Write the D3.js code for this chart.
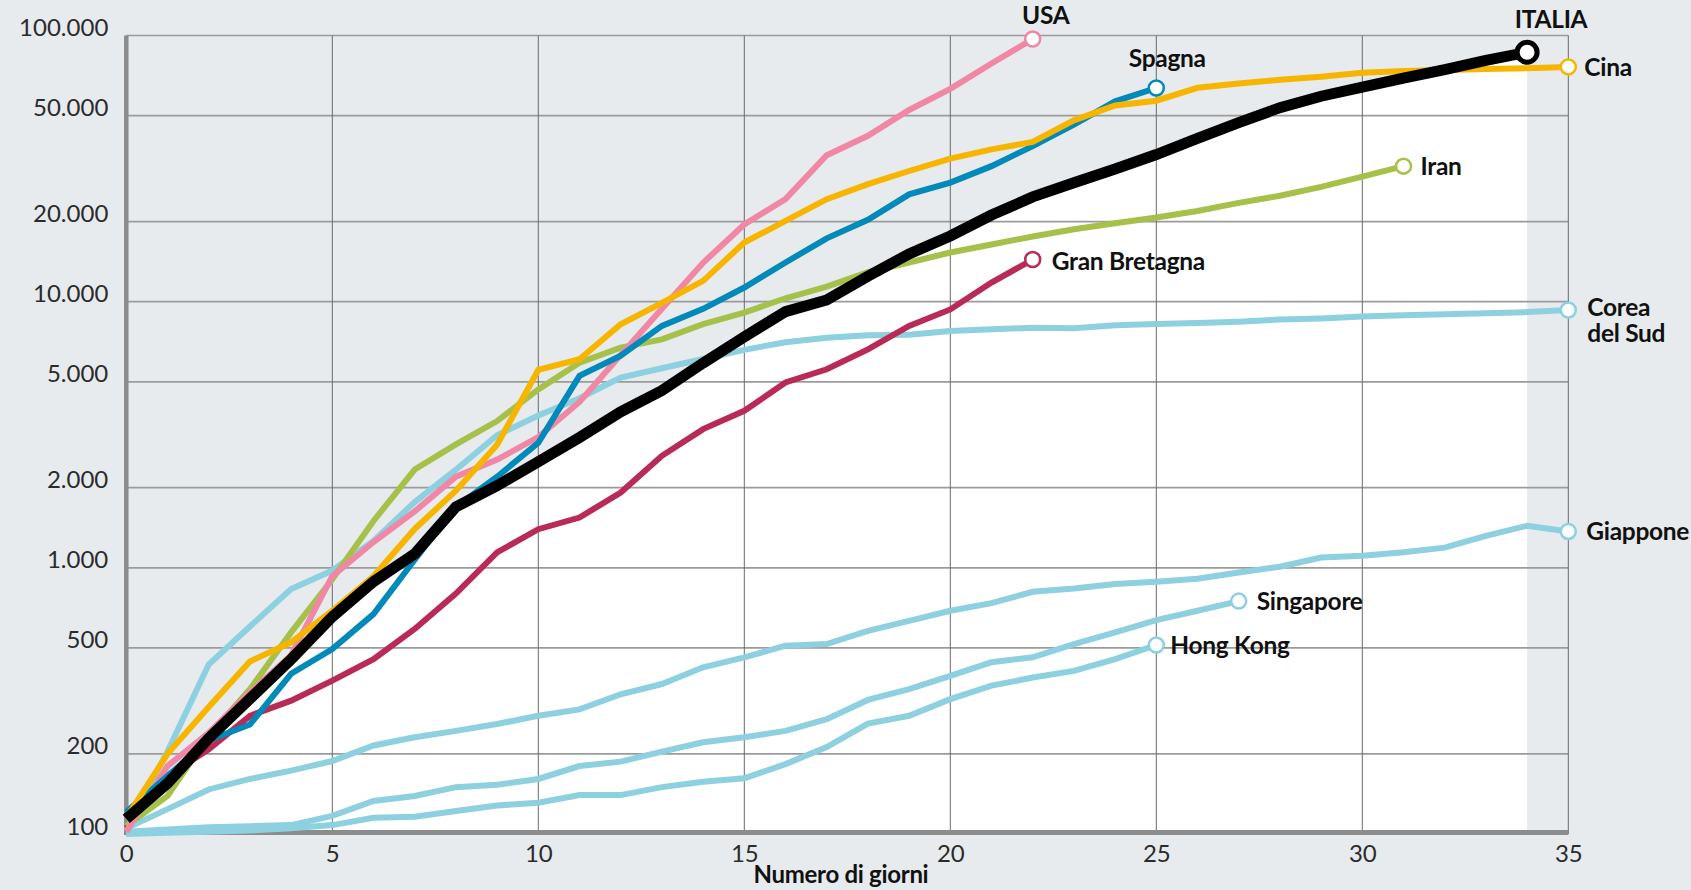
<!DOCTYPE html>
<html>
<head>
<meta charset="utf-8">
<script src="https://cdn.jsdelivr.net/npm/d3@7"></script>
<style>
  body { margin: 0; background: #e7ebee; }
  svg { display: block; }
  .axis text { font-family: Lato, sans-serif; font-weight: 400; font-size: 24px; fill: #2b2b2b; }
  .label { font-family: Lato, sans-serif; font-weight: 700; font-size: 24.5px; fill: #111; letter-spacing: -0.3px; }
</style>
</head>
<body>
<div id="chart"></div>
<script>
// casi totali per giorno, dal giorno in cui si superano i 100 casi
const italia    = [114, 155, 229, 322, 453, 655, 888, 1128, 1694, 2036, 2502, 3089, 3858, 4636, 5883, 7375, 9172, 10149, 12462, 15113, 17660, 21157, 24747, 27980, 31506, 35713, 41035, 47021, 53578, 59138, 63927, 69176, 74386, 80589, 86498];
const cina      = [115, 200, 300, 445, 525, 690, 930, 1400, 1950, 2900, 5540, 6080, 8220, 9900, 11970, 16680, 20100, 24270, 27630, 30970, 34470, 37350, 39800, 48000, 54600, 56900, 63600, 66000, 68200, 70000, 72500, 73500, 74200, 74800, 75300, 76200];
const usa       = [102, 180, 240, 340, 470, 930, 1250, 1630, 2200, 2550, 3100, 4200, 6300, 9400, 14000, 19500, 24300, 35500, 42000, 52500, 63000, 78500, 97000];
const spagna    = [121, 165, 225, 258, 400, 495, 670, 1073, 1695, 2200, 2950, 5260, 6270, 8110, 9400, 11300, 14030, 17300, 20300, 25300, 28000, 32300, 38400, 46300, 56600, 63500];
const iran      = [107, 139, 234, 350, 572, 906, 1500, 2340, 2910, 3560, 4680, 5900, 6720, 7220, 8230, 9100, 10300, 11400, 12900, 14030, 15300, 16400, 17580, 18700, 19700, 20700, 21900, 23500, 25000, 27000, 29500, 32300];
const gb        = [105, 165, 208, 278, 317, 377, 454, 589, 800, 1143, 1397, 1545, 1918, 2635, 3320, 3890, 4970, 5570, 6620, 8110, 9350, 11800, 14400];
const corea     = [104, 204, 433, 602, 833, 977, 1261, 1766, 2337, 3150, 3736, 4335, 5186, 5621, 6088, 6593, 7041, 7314, 7478, 7513, 7755, 7869, 7979, 7950, 8160, 8236, 8320, 8413, 8565, 8652, 8799, 8897, 8961, 9037, 9137, 9300];
const giappone  = [105, 124, 147, 161, 173, 188, 215, 231, 244, 259, 278, 294, 335, 366, 423, 461, 510, 517, 580, 632, 690, 737, 813, 837, 869, 886, 910, 960, 1010, 1094, 1110, 1144, 1191, 1318, 1439, 1370];
const singapore = [102, 104, 106, 107, 108, 117, 133, 139, 150, 153, 161, 180, 187, 204, 221, 231, 244, 270, 319, 350, 393, 442, 461, 517, 572, 636, 690, 750];
const hongkong  = [100, 101, 102, 103, 105, 108, 115, 116, 122, 128, 131, 140, 140, 150, 157, 162, 183, 212, 260, 278, 321, 361, 387, 410, 454, 513];

const yTicks = [100, 200, 500, 1000, 2000, 5000, 10000, 20000, 50000, 100000];
const xTicks = [0, 5, 10, 15, 20, 25, 30, 35];

const width = 1691, height = 890;
const cyan = "#8dd0df";

// ordine di disegno: prima i paesi asiatici, Italia sopra a tutti
const series = [
  { name: ["Hong Kong"],       data: hongkong,  color: cyan,      w: 6,  lab: [14, 0, "start"] },
  { name: ["Singapore"],       data: singapore, color: cyan,      w: 6,  lab: [18, 0, "start"] },
  { name: ["Giappone"],        data: giappone,  color: cyan,      w: 6,  lab: [18, 0, "start"] },
  { name: ["Corea", "del Sud"],data: corea,     color: cyan,      w: 6,  lab: [19, -3, "start"] },
  { name: ["Gran Bretagna"],   data: gb,        color: "#b92b56", w: 6,  lab: [19, 2, "start"] },
  { name: ["Iran"],            data: iran,      color: "#a6c14a", w: 6,  lab: [17, 0, "start"] },
  { name: ["USA"],             data: usa,       color: "#f088a5", w: 6,  lab: [13, -24, "middle"] },
  { name: ["Spagna"],          data: spagna,    color: "#0089b9", w: 6,  lab: [11, -30, "middle"] },
  { name: ["Cina"],            data: cina,      color: "#f7b500", w: 6,  lab: [16, 0, "start"] },
  { name: ["ITALIA"],          data: italia,    color: "#000",    w: 11, lab: [24, -33, "middle"] }
];

const svg = d3.select("#chart").append("svg")
    .attr("width", width)
    .attr("height", height);

const x = d3.scaleLinear().domain([0, 35]).range([126.3, 1568.3]);
const y = d3.scaleLog().domain([100, 100000]).range([834, 35.5]);

const fmt = d3.formatLocale({ decimal: ",", thousands: ".", grouping: [3], currency: ["", "€"] }).format(",d");

svg.append("rect").attr("width", width).attr("height", height).attr("fill", "#e7ebee");

// area bianca sotto la curva italiana
const area = d3.area()
    .x((d, i) => x(i))
    .y0(y(100))
    .y1(d => y(d));
svg.append("path").datum(italia).attr("d", area).attr("fill", "#fff");

// griglia
svg.append("g").selectAll("line").data(yTicks.slice(1)).join("line")
    .attr("x1", x(0)).attr("x2", x(35))
    .attr("y1", d => y(d)).attr("y2", d => y(d))
    .attr("stroke", "#9b9b9b").attr("stroke-width", 1.7);
svg.append("g").selectAll("line").data(xTicks.slice(1)).join("line")
    .attr("x1", d => x(d)).attr("x2", d => x(d))
    .attr("y1", y(100000)).attr("y2", y(100))
    .attr("stroke", "#6a6a6a").attr("stroke-width", 1);

// etichette assi
const yAxis = svg.append("g").attr("class", "axis")
    .attr("transform", `translate(${x(0)},0)`)
    .call(d3.axisLeft(y).tickValues(yTicks).tickFormat(fmt).tickSize(0).tickPadding(18));
yAxis.select(".domain").remove();
yAxis.selectAll("text").attr("dy", "0");

const xAxis = svg.append("g").attr("class", "axis")
    .attr("transform", `translate(0,${y(100)})`)
    .call(d3.axisBottom(x).tickValues(xTicks).tickSize(0).tickPadding(11));
xAxis.select(".domain").remove();

svg.append("text").attr("class", "label")
    .attr("x", 841).attr("y", 883)
    .attr("text-anchor", "middle")
    .style("font-size", "24px")
    .text("Numero di giorni");

// assi spessi
svg.append("line")
    .attr("x1", x(0)).attr("x2", x(0)).attr("y1", y(100000)).attr("y2", y(100) + 1)
    .attr("stroke", "#8c8c8c").attr("stroke-width", 4.5);
svg.append("line")
    .attr("x1", x(0) - 2).attr("x2", x(35)).attr("y1", y(100) - 1.5).attr("y2", y(100) - 1.5)
    .attr("stroke", "#8c8c8c").attr("stroke-width", 5);

// linee
const line = d3.line()
    .x((d, i) => x(i))
    .y(d => y(d));

svg.append("g").selectAll("path").data(series).join("path")
    .attr("d", s => line(s.data))
    .attr("fill", "none")
    .attr("stroke", s => s.color)
    .attr("stroke-width", s => s.w);

// marcatori finali
svg.append("g").selectAll("circle").data(series).join("circle")
    .attr("cx", s => x(s.data.length - 1))
    .attr("cy", s => y(s.data[s.data.length - 1]))
    .attr("r", s => s.w > 8 ? 10 : 7.5)
    .attr("fill", "#fff")
    .attr("stroke", s => s.color)
    .attr("stroke-width", s => s.w > 8 ? 5 : 2.5);

// etichette paesi
const labels = svg.append("g").selectAll("text").data(series).join("text")
    .attr("class", "label")
    .attr("text-anchor", s => s.lab[2])
    .attr("x", s => x(s.data.length - 1) + s.lab[0])
    .attr("y", s => y(s.data[s.data.length - 1]) + s.lab[1])
    .attr("dy", "0.36em");

labels.selectAll("tspan").data(s => s.name).join("tspan")
    .attr("x", function() { return this.parentNode.getAttribute("x"); })
    .attr("dy", (d, i) => i ? "1.08em" : null)
    .text(d => d);
</script>
</body>
</html>
